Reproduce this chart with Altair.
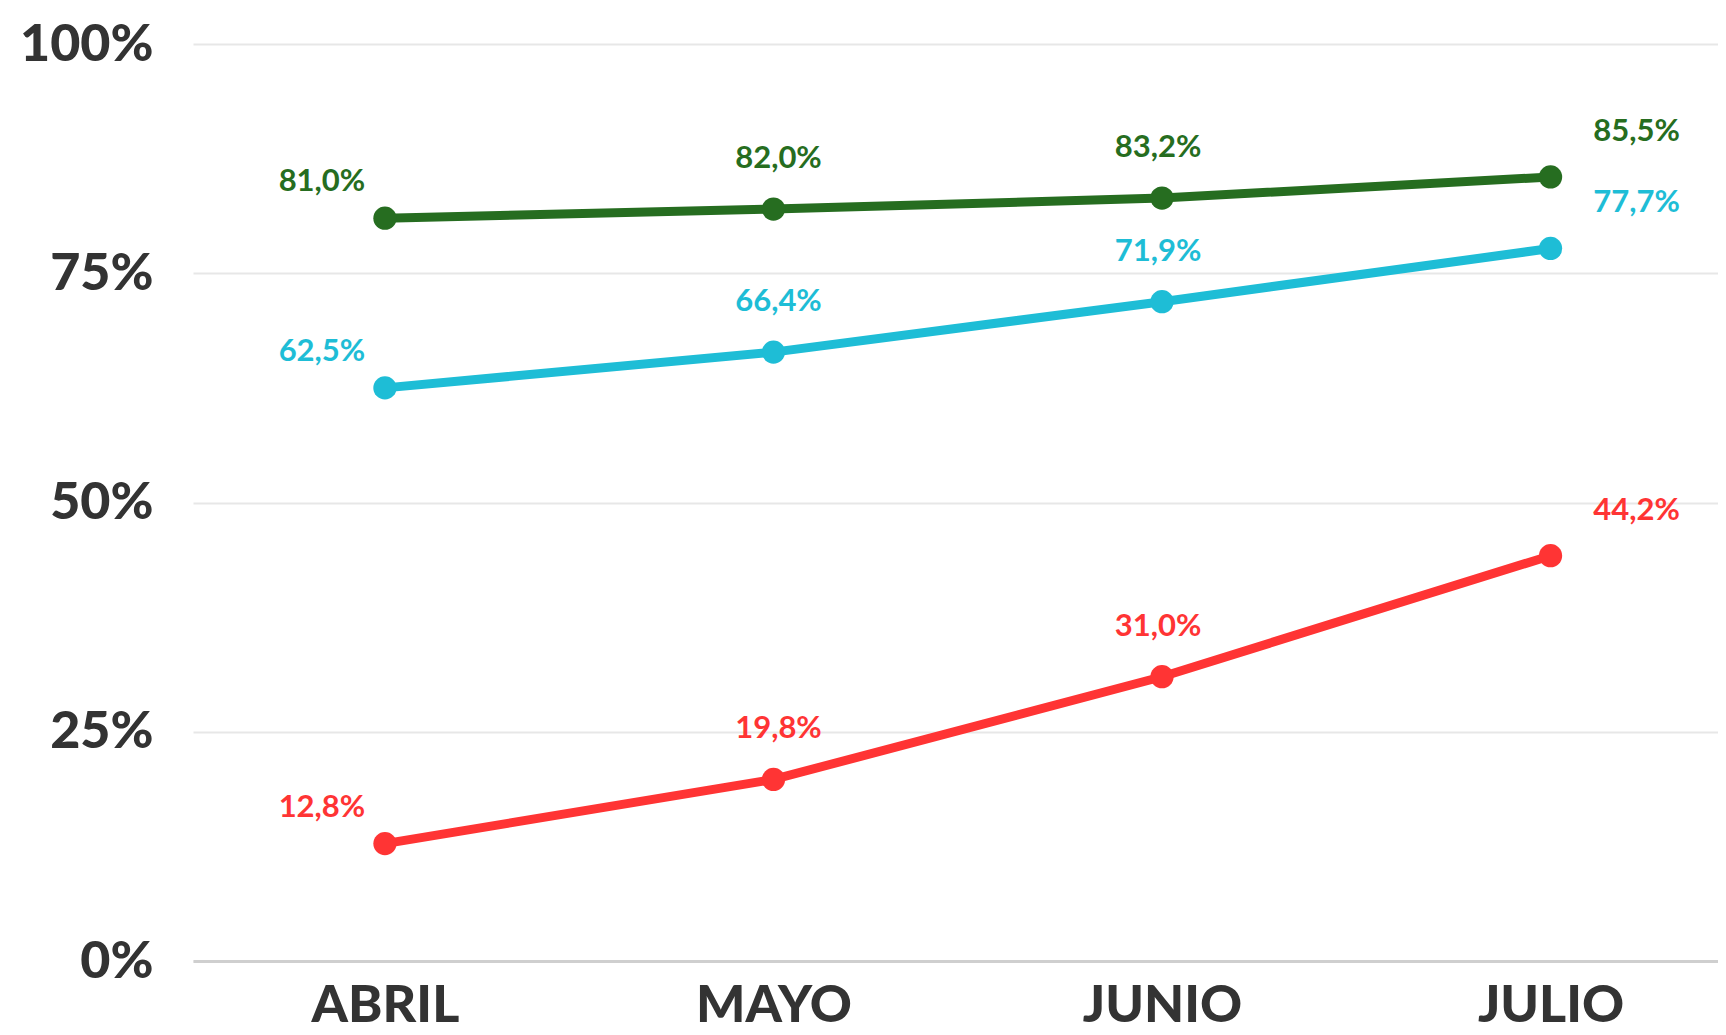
import json
import altair as alt
import pandas as pd

meses = ["ABRIL", "MAYO", "JUNIO", "JULIO"]
serie_verde = [81.0, 82.0, 83.2, 85.5]
serie_celeste = [62.5, 66.4, 71.9, 77.7]
serie_roja = [12.8, 19.8, 31.0, 44.2]
series = ["verde", "celeste", "roja"]
colores = ["#266d20", "#1ebdd6", "#ff3434"]
ticks_y = [0, 25, 50, 75, 100]

rows = []
for nombre, vals in zip(series, [serie_verde, serie_celeste, serie_roja]):
    for i, (m, v) in enumerate(zip(meses, vals)):
        rows.append({"mes": m, "idx": i, "serie": nombre, "valor": v,
                     "etiqueta": f"{v:.1f}".replace(".", ",") + "%"})
df = pd.DataFrame(rows)

FONT = "Lato"

x = alt.X("idx:Q", title=None,
          scale=alt.Scale(domain=[-0.494, 3.431], nice=False, zero=False),
          axis=alt.Axis(values=list(range(len(meses))),
                        labelExpr=json.dumps(meses) + "[datum.value]",
                        labelAngle=0, ticks=False, grid=False, domain=True,
                        domainColor="#cfcfcf", domainWidth=3,
                        labelFont=FONT, labelFontSize=52, labelFontWeight=900,
                        labelColor="#333333", labelPadding=19))
y = alt.Y("valor:Q", title=None,
          scale=alt.Scale(domain=[0, 100], nice=False),
          axis=alt.Axis(values=ticks_y, labelExpr="datum.value + '%'",
                        ticks=False, domain=False, grid=True,
                        gridColor="#e7e7e7", gridWidth=2,
                        labelFont=FONT, labelFontSize=52, labelFontWeight=900,
                        labelColor="#333333", labelPadding=40))
color = alt.Color("serie:N", scale=alt.Scale(domain=series, range=colores), legend=None)

base = alt.Chart(df).encode(x=x, y=y, color=color)

lineas = base.mark_line(strokeWidth=9)
puntos = base.mark_circle(size=540, opacity=1)

desplaz = {"ABRIL": (-63, -36), "MAYO": (5, -50), "JUNIO": (-4, -50), "JULIO": (86, -45)}
textos = []
for m in meses:
    dx, dy = desplaz[m]
    textos.append(
        base.transform_filter(alt.datum.mes == m)
        .mark_text(font=FONT, fontSize=31, fontWeight="bold", dx=dx, dy=dy)
        .encode(text="etiqueta:N")
    )

chart = alt.layer(lineas, puntos, *textos).properties(
    width=1525, height=917, background="white",
    autosize=alt.AutoSizeParams(type="none"),
    padding={"left": 185, "top": 36, "right": 0, "bottom": 74},
).configure_view(stroke=None)

chart.save("out.html", embed_options={"renderer": "svg", "actions": False})
